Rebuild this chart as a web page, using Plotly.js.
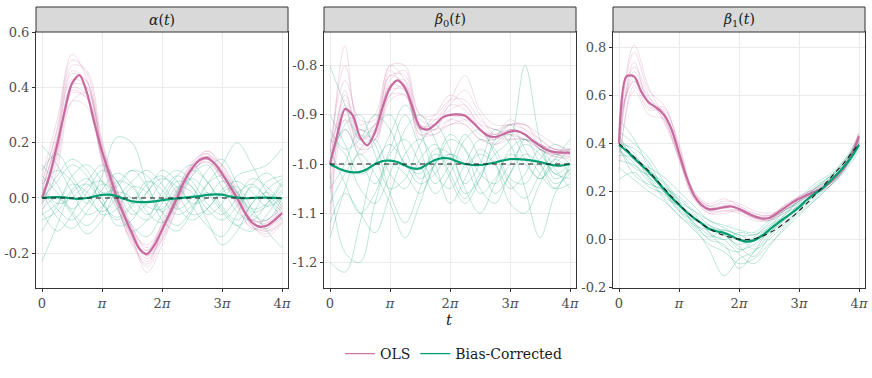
<!DOCTYPE html>
<html><head><meta charset="utf-8">
<script src="https://cdn.plot.ly/plotly-3.0.1.min.js"></script>
<style>html,body{margin:0;padding:0;background:#fff}#chart{width:872px;height:378px}</style>
</head><body><div id="chart"></div>
<script>
// time grids, in units of pi
const tFine = [0,0.125,0.25,0.375,0.5,0.625,0.75,0.875,1,1.125,1.25,1.375,1.5,1.625,1.75,1.875,2,2.125,2.25,2.375,2.5,2.625,2.75,2.875,3,3.125,3.25,3.375,3.5,3.625,3.75,3.875,4];
const tCoarse = [0,0.25,0.5,0.75,1,1.25,1.5,1.75,2,2.25,2.5,2.75,3,3.25,3.5,3.75,4];
const tEnds = [0,4];

const xTickVals = [0,1,2,3,4];
const xTickText = ['0','<i>π</i>','2<i>π</i>','3<i>π</i>','4<i>π</i>'];

const panelTitles = ['<i>α</i>(<i>t</i>)','<i>β</i><sub>0</sub>(<i>t</i>)','<i>β</i><sub>1</sub>(<i>t</i>)'];
const legendNames = ['OLS','Bias-Corrected'];

// ---------- alpha(t) ----------
const alphaOLSMean = [0,0.08,0.19,0.31,0.415,0.445,0.38,0.27,0.17,0.085,0.0,-0.067,-0.128,-0.185,-0.203,-0.17,-0.116,-0.058,0.0,0.062,0.107,0.137,0.145,0.125,0.089,0.045,0.0,-0.05,-0.089,-0.104,-0.1,-0.08,-0.055];
const alphaBCMean = [0,0.002,0.003,0.002,-0.002,-0.003,0,0.006,0.011,0.012,0.006,-0.004,-0.012,-0.015,-0.015,-0.012,-0.008,-0.004,-0.002,0.001,0.004,0.007,0.011,0.013,0.012,0.006,0.001,-0.001,0,0.001,0.001,0,-0.001];
const alphaTruth = [0,0];
const alphaOLSReps = [
 [0.05,0.25,0.50,0.45,0.20,0.02,-0.13,-0.22,-0.14,-0.01,0.11,0.16,0.10,0.0,-0.10,-0.12,-0.07],
 [-0.03,0.13,0.35,0.33,0.14,-0.01,-0.12,-0.17,-0.10,0.01,0.10,0.13,0.08,0.01,-0.08,-0.09,-0.04],
 [0.02,0.22,0.46,0.42,0.17,-0.01,-0.15,-0.25,-0.15,-0.02,0.12,0.17,0.11,0.01,-0.10,-0.13,-0.08],
 [0.0,0.16,0.38,0.36,0.15,0.01,-0.11,-0.18,-0.11,0.01,0.10,0.13,0.07,-0.01,-0.08,-0.08,-0.03],
 [0.08,0.28,0.52,0.43,0.14,-0.03,-0.16,-0.23,-0.12,0.02,0.13,0.16,0.09,-0.02,-0.11,-0.11,-0.05],
 [-0.05,0.10,0.35,0.38,0.19,0.03,-0.10,-0.19,-0.12,-0.01,0.09,0.14,0.10,0.02,-0.07,-0.10,-0.07],
 [0.03,0.21,0.43,0.40,0.16,0.0,-0.14,-0.27,-0.17,-0.03,0.10,0.15,0.09,-0.01,-0.09,-0.11,-0.06],
 [-0.02,0.17,0.40,0.37,0.15,-0.02,-0.14,-0.20,-0.10,0.02,0.11,0.14,0.08,0.0,-0.09,-0.10,-0.05],
 [0.04,0.20,0.45,0.42,0.18,0.02,-0.12,-0.21,-0.13,-0.01,0.10,0.17,0.12,0.02,-0.10,-0.14,-0.09],
 [0.01,0.18,0.39,0.36,0.13,-0.03,-0.15,-0.19,-0.09,0.03,0.12,0.14,0.07,-0.02,-0.08,-0.08,-0.02],
 [0.06,0.24,0.48,0.46,0.21,0.03,-0.11,-0.21,-0.15,-0.04,0.08,0.15,0.12,0.03,-0.08,-0.12,-0.09],
 [-0.01,0.15,0.41,0.40,0.17,-0.02,-0.17,-0.24,-0.12,0.01,0.12,0.15,0.08,-0.03,-0.11,-0.09,-0.03]
];
const alphaBCReps = [
 [-0.23,-0.10,0.02,0.05,-0.02,-0.08,-0.03,0.05,0.08,0.02,-0.06,-0.04,0.03,0.06,0.02,-0.03,0.0],
 [0.19,0.12,0.02,-0.06,-0.03,0.05,0.10,0.04,-0.05,-0.10,-0.04,0.05,0.08,0.02,-0.04,-0.02,0.05],
 [0.05,0.10,0.06,-0.02,0.08,0.22,0.20,0.05,-0.05,0.02,0.10,0.06,-0.03,-0.08,-0.02,0.06,0.08],
 [-0.05,-0.12,-0.06,0.04,0.06,-0.02,-0.10,-0.14,-0.06,0.04,0.02,-0.08,-0.17,-0.12,-0.02,0.02,-0.03],
 [0.0,0.06,0.12,0.08,-0.02,-0.07,-0.02,0.06,0.03,-0.04,0.0,0.10,0.14,0.05,-0.05,-0.03,0.03],
 [-0.12,-0.03,0.05,0.02,-0.06,-0.04,0.04,0.02,-0.08,-0.12,-0.05,0.05,0.12,0.20,0.12,0.02,-0.04],
 [0.08,0.02,-0.05,-0.10,-0.04,0.06,0.04,-0.05,-0.09,-0.02,0.08,0.12,0.04,-0.05,-0.08,-0.02,0.06],
 [-0.02,0.08,0.14,0.10,0.02,0.04,0.10,0.08,0.0,-0.06,-0.03,0.02,-0.04,-0.10,-0.12,-0.06,0.02],
 [0.12,0.05,-0.04,0.02,0.10,0.06,-0.04,-0.08,-0.02,0.06,0.04,-0.06,-0.02,0.08,0.10,0.12,0.18],
 [-0.08,-0.05,0.03,0.07,0.0,-0.10,-0.08,0.02,0.07,0.04,-0.03,-0.10,-0.14,-0.06,0.04,0.0,-0.08],
 [0.03,-0.04,-0.08,-0.02,0.05,0.02,-0.06,-0.02,0.06,0.10,0.06,-0.02,-0.06,0.0,0.07,0.04,-0.02],
 [0.10,0.16,0.08,0.0,-0.05,0.0,0.06,0.10,0.05,-0.03,-0.08,-0.04,0.02,0.04,-0.04,-0.12,-0.18],
 [-0.04,0.0,-0.06,-0.13,-0.08,0.02,0.0,-0.06,0.0,0.08,0.12,0.06,0.0,0.02,0.05,0.0,-0.05],
 [0.04,-0.02,0.0,0.06,0.12,0.06,-0.02,0.02,0.10,0.06,-0.02,0.0,0.06,0.02,-0.06,-0.08,0.0],
 [-0.06,-0.02,0.08,0.12,0.06,-0.04,-0.12,-0.08,0.02,0.08,0.04,-0.04,-0.08,-0.03,0.05,0.09,0.04],
 [0.02,-0.07,-0.11,-0.05,0.03,0.09,0.05,-0.03,-0.04,0.03,0.07,0.02,-0.05,-0.10,-0.06,0.03,0.07]
];

// ---------- beta0(t) ----------
const beta0OLSMean = [-1.0,-0.94,-0.888,-0.9,-0.945,-0.962,-0.935,-0.885,-0.845,-0.83,-0.845,-0.885,-0.925,-0.93,-0.92,-0.905,-0.9,-0.899,-0.902,-0.915,-0.93,-0.942,-0.945,-0.94,-0.934,-0.933,-0.94,-0.952,-0.963,-0.972,-0.976,-0.977,-0.977];
const beta0BCMean = [-1.0,-1.008,-1.014,-1.017,-1.016,-1.01,-1.0,-0.994,-0.993,-0.996,-1.003,-1.009,-1.009,-1.0,-0.992,-0.988,-0.989,-0.995,-1.0,-1.002,-1.002,-1.0,-0.997,-0.993,-0.99,-0.99,-0.991,-0.993,-0.996,-1.0,-1.003,-1.003,-1.0];
const beta0Truth = [-1,-1];
const beta0OLSReps = [
 [-0.98,-0.80,-0.92,-0.90,-0.80,-0.80,-0.90,-0.90,-0.87,-0.87,-0.91,-0.93,-0.92,-0.93,-0.95,-0.97,-0.97],
 [-1.10,-0.93,-0.97,-0.96,-0.87,-0.86,-0.94,-0.94,-0.92,-0.92,-0.95,-0.96,-0.95,-0.95,-0.97,-0.985,-0.985],
 [-1.02,-0.86,-0.93,-0.92,-0.82,-0.82,-0.90,-0.91,-0.88,-0.85,-0.90,-0.94,-0.92,-0.92,-0.95,-0.97,-0.97],
 [-0.96,-0.90,-0.96,-0.95,-0.86,-0.84,-0.92,-0.93,-0.92,-0.91,-0.92,-0.93,-0.94,-0.95,-0.96,-0.98,-0.98],
 [-1.05,-0.88,-0.95,-0.93,-0.83,-0.81,-0.92,-0.92,-0.89,-0.88,-0.93,-0.95,-0.92,-0.92,-0.96,-0.975,-0.98],
 [-1.0,-0.91,-0.94,-0.94,-0.86,-0.86,-0.94,-0.93,-0.91,-0.92,-0.95,-0.95,-0.93,-0.94,-0.97,-0.98,-0.985],
 [-1.14,-0.85,-0.95,-0.92,-0.80,-0.83,-0.93,-0.90,-0.86,-0.88,-0.92,-0.94,-0.91,-0.93,-0.96,-0.97,-0.975],
 [-0.99,-0.87,-0.94,-0.95,-0.85,-0.85,-0.91,-0.92,-0.90,-0.90,-0.93,-0.945,-0.95,-0.95,-0.96,-0.975,-0.97],
 [-1.03,-0.76,-0.93,-0.93,-0.84,-0.83,-0.92,-0.93,-0.88,-0.89,-0.93,-0.94,-0.93,-0.94,-0.96,-0.97,-0.98],
 [-1.01,-0.89,-0.97,-0.94,-0.82,-0.84,-0.95,-0.92,-0.90,-0.91,-0.94,-0.95,-0.93,-0.94,-0.97,-0.98,-0.97],
 [-0.97,-0.83,-0.91,-0.91,-0.81,-0.85,-0.93,-0.91,-0.87,-0.82,-0.89,-0.92,-0.92,-0.92,-0.94,-0.96,-0.97],
 [-1.06,-0.91,-0.98,-0.95,-0.84,-0.85,-0.93,-0.94,-0.91,-0.90,-0.93,-0.96,-0.94,-0.95,-0.97,-0.985,-0.99]
];
const beta0BCReps = [
 [-1.15,-1.05,-0.97,-0.95,-1.02,-1.05,-0.99,-0.96,-1.02,-1.07,-1.02,-0.98,-0.95,-0.80,-0.95,-1.02,-1.0],
 [-0.80,-0.88,-0.95,-0.92,-0.90,-0.97,-1.03,-1.0,-0.95,-0.97,-1.02,-1.04,-1.0,-0.96,-0.98,-1.02,-1.03],
 [-1.02,-1.18,-1.20,-1.08,-1.0,-1.02,-1.06,-1.0,-0.94,-0.97,-1.05,-1.08,-1.02,-0.98,-1.0,-1.04,-1.02],
 [-0.95,-0.98,-1.05,-1.08,-1.02,-0.93,-0.90,-0.95,-1.03,-1.08,-1.03,-0.96,-0.94,-0.99,-1.03,-1.0,-0.97],
 [-1.05,-1.0,-0.93,-0.96,-1.06,-1.12,-1.05,-0.97,-0.98,-1.04,-1.0,-0.93,-0.96,-1.05,-1.15,-1.06,-1.01],
 [-0.90,-0.96,-1.02,-1.0,-0.94,-0.88,-0.93,-1.02,-1.05,-1.0,-0.95,-0.97,-1.03,-1.04,-0.99,-0.96,-0.98],
 [-1.20,-1.22,-1.12,-1.0,-0.96,-1.0,-1.04,-1.02,-0.98,-1.0,-1.06,-1.03,-0.97,-0.95,-1.0,-1.05,-1.04],
 [-1.0,-0.92,-0.90,-0.98,-1.05,-1.03,-0.96,-0.92,-0.97,-1.05,-1.10,-1.04,-0.98,-1.0,-1.03,-0.99,-0.95],
 [-0.97,-1.04,-1.10,-1.06,-0.98,-0.95,-1.0,-1.06,-1.02,-0.95,-0.93,-0.98,-1.04,-1.07,-1.02,-0.98,-1.0],
 [-1.08,-1.02,-0.98,-1.02,-1.08,-1.15,-1.08,-1.0,-0.98,-1.0,-0.98,-1.0,-1.05,-1.02,-0.97,-1.01,-1.05],
 [-0.93,-0.97,-0.95,-0.90,-0.93,-1.0,-1.02,-0.98,-1.0,-1.06,-1.03,-0.95,-0.92,-0.97,-1.02,-1.05,-1.0],
 [-1.12,-1.06,-1.1,-1.14,-1.06,-0.98,-0.95,-1.0,-1.08,-1.03,-0.97,-1.0,-1.08,-1.1,-1.04,-0.99,-1.02],
 [-0.99,-0.93,-0.99,-1.04,-0.97,-0.90,-0.97,-1.04,-1.0,-0.94,-0.99,-1.06,-1.02,-0.95,-0.97,-1.03,-1.01]
];

// ---------- beta1(t) ----------
const beta1OLSMean = [0.40,0.68,0.68,0.615,0.57,0.55,0.52,0.46,0.36,0.26,0.185,0.145,0.127,0.128,0.135,0.138,0.128,0.112,0.098,0.088,0.09,0.108,0.13,0.152,0.17,0.185,0.198,0.212,0.235,0.265,0.3,0.35,0.43];
const beta1BCMean = [0.395,0.37,0.34,0.31,0.28,0.245,0.21,0.175,0.145,0.115,0.09,0.068,0.045,0.035,0.028,0.015,0.0,-0.008,-0.003,0.015,0.04,0.065,0.088,0.11,0.135,0.165,0.19,0.21,0.24,0.27,0.305,0.345,0.395];
const beta1Truth = [0.4,0.375,0.345,0.315,0.285,0.25,0.215,0.18,0.148,0.118,0.09,0.066,0.046,0.03,0.017,0.008,0.002,0.0,0.004,0.013,0.027,0.045,0.067,0.092,0.12,0.15,0.182,0.215,0.25,0.285,0.32,0.36,0.4];
const beta1OLSReps = [
 [0.45,0.78,0.62,0.56,0.40,0.20,0.14,0.15,0.14,0.11,0.10,0.14,0.18,0.21,0.25,0.31,0.45],
 [0.32,0.62,0.52,0.50,0.33,0.17,0.11,0.12,0.11,0.08,0.08,0.12,0.16,0.19,0.22,0.29,0.41],
 [0.40,0.72,0.60,0.49,0.34,0.19,0.14,0.16,0.15,0.12,0.11,0.13,0.17,0.20,0.24,0.31,0.44],
 [0.48,0.66,0.55,0.55,0.38,0.18,0.12,0.12,0.12,0.09,0.08,0.12,0.16,0.19,0.23,0.29,0.42],
 [0.36,0.70,0.59,0.53,0.37,0.19,0.12,0.14,0.13,0.10,0.09,0.14,0.18,0.20,0.24,0.30,0.43],
 [0.42,0.81,0.63,0.51,0.35,0.20,0.15,0.17,0.14,0.10,0.10,0.13,0.17,0.21,0.25,0.31,0.44],
 [0.28,0.64,0.54,0.54,0.39,0.18,0.11,0.11,0.12,0.09,0.08,0.11,0.16,0.19,0.22,0.29,0.42],
 [0.44,0.68,0.58,0.50,0.34,0.17,0.13,0.14,0.13,0.11,0.10,0.14,0.17,0.20,0.23,0.30,0.43],
 [0.38,0.74,0.56,0.52,0.36,0.19,0.14,0.13,0.12,0.09,0.09,0.13,0.18,0.21,0.24,0.30,0.44],
 [0.50,0.66,0.57,0.53,0.37,0.18,0.12,0.14,0.13,0.10,0.09,0.12,0.17,0.19,0.23,0.30,0.42]
];
const beta1BCReps = [
 [0.45,0.40,0.34,0.24,0.16,0.12,0.08,0.05,0.02,0.02,0.06,0.10,0.16,0.22,0.26,0.32,0.41],
 [0.30,0.25,0.20,0.16,0.10,0.04,-0.02,-0.05,-0.10,-0.08,-0.02,0.04,0.10,0.16,0.22,0.29,0.38],
 [0.42,0.36,0.26,0.18,0.14,0.10,0.03,0.0,0.03,0.02,0.05,0.12,0.15,0.18,0.25,0.32,0.40],
 [0.38,0.30,0.27,0.24,0.16,0.06,0.01,0.04,0.01,-0.04,0.0,0.06,0.12,0.20,0.23,0.29,0.39],
 [0.50,0.42,0.30,0.22,0.18,0.12,0.06,0.02,-0.02,0.01,0.07,0.11,0.14,0.19,0.25,0.32,0.42],
 [0.35,0.34,0.25,0.17,0.10,0.05,-0.04,-0.15,-0.08,-0.05,0.02,0.08,0.13,0.18,0.24,0.30,0.39],
 [0.40,0.38,0.32,0.20,0.12,0.08,0.06,0.03,-0.04,-0.02,0.03,0.08,0.15,0.21,0.26,0.31,0.40],
 [0.25,0.28,0.22,0.19,0.13,0.07,0.02,0.0,-0.06,-0.10,-0.03,0.05,0.11,0.16,0.22,0.28,0.37],
 [0.44,0.33,0.30,0.26,0.20,0.14,0.08,0.06,0.04,0.03,0.08,0.12,0.16,0.21,0.26,0.33,0.43],
 [0.37,0.32,0.24,0.20,0.12,0.06,0.04,0.02,-0.03,-0.07,0.01,0.07,0.12,0.17,0.23,0.30,0.40],
 [0.41,0.35,0.29,0.23,0.15,0.09,0.05,0.04,0.02,0.0,0.03,0.09,0.14,0.19,0.24,0.31,0.39],
 [0.33,0.31,0.26,0.20,0.14,0.07,0.00,-0.02,-0.12,-0.05,0.04,0.09,0.13,0.20,0.25,0.30,0.40],
 [0.39,0.27,0.23,0.21,0.17,0.11,0.03,-0.03,-0.05,0.0,0.05,0.10,0.17,0.23,0.27,0.33,0.41]
];

const yTickVals = [[-0.2,0,0.2,0.4,0.6],[-1.2,-1.1,-1.0,-0.9,-0.8],[-0.2,0,0.2,0.4,0.6,0.8]];
const yTickText = [['-0.2','0.0','0.2','0.4','0.6'],['-1.2','-1.1','-1.0','-0.9','-0.8'],['-0.2','0.0','0.2','0.4','0.6','0.8']];

// ---------- styling ----------
const OLS_COL = '#CC79A7', BC_COL = '#009E73';
const FONT = 'DejaVu Serif';
const W = 872, H = 378;
const px = [[36,288],[324,576],[613,865]];
const plotTop = 32, plotBot = 288, stripTop = 7;
const yRanges = [[-0.326,0.601],[-1.2523,-0.7314],[-0.2015,0.865]];

const panels = [
  {ols: alphaOLSReps, bc: alphaBCReps, olsM: alphaOLSMean, bcM: alphaBCMean, truthX: tEnds, truth: alphaTruth},
  {ols: beta0OLSReps, bc: beta0BCReps, olsM: beta0OLSMean, bcM: beta0BCMean, truthX: tEnds, truth: beta0Truth},
  {ols: beta1OLSReps, bc: beta1BCReps, olsM: beta1OLSMean, bcM: beta1BCMean, truthX: tFine, truth: beta1Truth}
];

const traces = [];
const layout = {
  width: W, height: H, autosize: false,
  margin: {l:0, r:0, t:0, b:0},
  paper_bgcolor: '#ffffff', plot_bgcolor: '#ffffff',
  font: {family: FONT, size: 13, color: '#1a1a1a'},
  showlegend: true,
  legend: {orientation: 'h', x: 0.52, xanchor: 'center', y: 1 - 354/H, yanchor: 'middle',
           font: {family: FONT, size: 14, color: '#1a1a1a'}, itemwidth: 30, tracegroupgap: 0,
           bgcolor: 'rgba(0,0,0,0)'},
  shapes: [], annotations: [], hovermode: false
};

panels.forEach((p, i) => {
  const sfx = i === 0 ? '' : String(i + 1);
  const xa = 'x' + sfx, ya = 'y' + sfx;
  const thin = (y, col, op) => ({x: tCoarse, y: y, xaxis: xa, yaxis: ya, type: 'scatter', mode: 'lines',
      line: {color: col, width: 0.8, shape: 'spline', smoothing: 1}, opacity: op, showlegend: false, hoverinfo: 'skip'});
  p.ols.forEach(r => traces.push(thin(r, OLS_COL, 0.32)));
  p.bc.forEach(r => traces.push(thin(r, BC_COL, 0.32)));
  traces.push({x: tFine, y: p.olsM, xaxis: xa, yaxis: ya, type: 'scatter', mode: 'lines',
    line: {color: '#C76A9F', width: 2.2, shape: 'spline', smoothing: 0.8}, showlegend: false});
  traces.push({x: tFine, y: p.bcM, xaxis: xa, yaxis: ya, type: 'scatter', mode: 'lines',
    line: {color: '#009E73', width: 2.2, shape: 'spline', smoothing: 0.8}, showlegend: false});
  traces.push({x: p.truthX, y: p.truth, xaxis: xa, yaxis: ya, type: 'scatter', mode: 'lines',
    line: {color: '#1a1a1a', width: 1.1, dash: '5px,4px', shape: 'spline'}, showlegend: false});

  const d0 = px[i][0] / W, d1 = px[i][1] / W;
  const common = {showline: true, mirror: true, linecolor: '#333333', linewidth: 1,
    ticks: 'outside', ticklen: 3, tickcolor: '#333333', tickwidth: 1,
    showgrid: true, gridcolor: '#EBEBEB', gridwidth: 1, zeroline: false,
    tickfont: {family: FONT, size: 13, color: '#4D4D4D'}, fixedrange: true};
  layout['xaxis' + sfx] = Object.assign({}, common, {domain: [d0, d1], anchor: ya, range: [-0.1, 4.1],
    tickmode: 'array', tickvals: xTickVals, ticktext: xTickText});
  layout['yaxis' + sfx] = Object.assign({}, common, {domain: [1 - plotBot / H, 1 - plotTop / H], anchor: xa,
    range: yRanges[i], tickmode: 'array', tickvals: yTickVals[i], ticktext: yTickText[i]});
  layout.shapes.push({type: 'rect', xref: 'paper', yref: 'paper', x0: d0, x1: d1,
    y0: 1 - plotTop / H, y1: 1 - stripTop / H, fillcolor: '#D9D9D9', line: {color: '#333333', width: 1}, layer: 'above'});
  layout.annotations.push({xref: 'paper', yref: 'paper', x: (d0 + d1) / 2, y: 1 - (plotTop + stripTop) / 2 / H,
    xanchor: 'center', yanchor: 'middle', showarrow: false, text: panelTitles[i],
    font: {family: FONT, size: 14, color: '#1a1a1a'}});
});

layout.annotations.push({xref: 'paper', yref: 'paper', x: (px[1][0] + px[1][1]) / 2 / W, y: 1 - 320 / H,
  xanchor: 'center', yanchor: 'middle', showarrow: false, text: '<i>t</i>',
  font: {family: FONT, size: 15, color: '#1a1a1a'}});

// legend entries
traces.push({x: [null], y: [null], type: 'scatter', mode: 'lines', name: legendNames[0],
  line: {color: OLS_COL, width: 1.3}, showlegend: true, xaxis: 'x2', yaxis: 'y2'});
traces.push({x: [null], y: [null], type: 'scatter', mode: 'lines', name: legendNames[1],
  line: {color: BC_COL, width: 1.3}, showlegend: true, xaxis: 'x2', yaxis: 'y2'});

Plotly.newPlot('chart', traces, layout, {staticPlot: true, displayModeBar: false});
</script>
</body></html>
